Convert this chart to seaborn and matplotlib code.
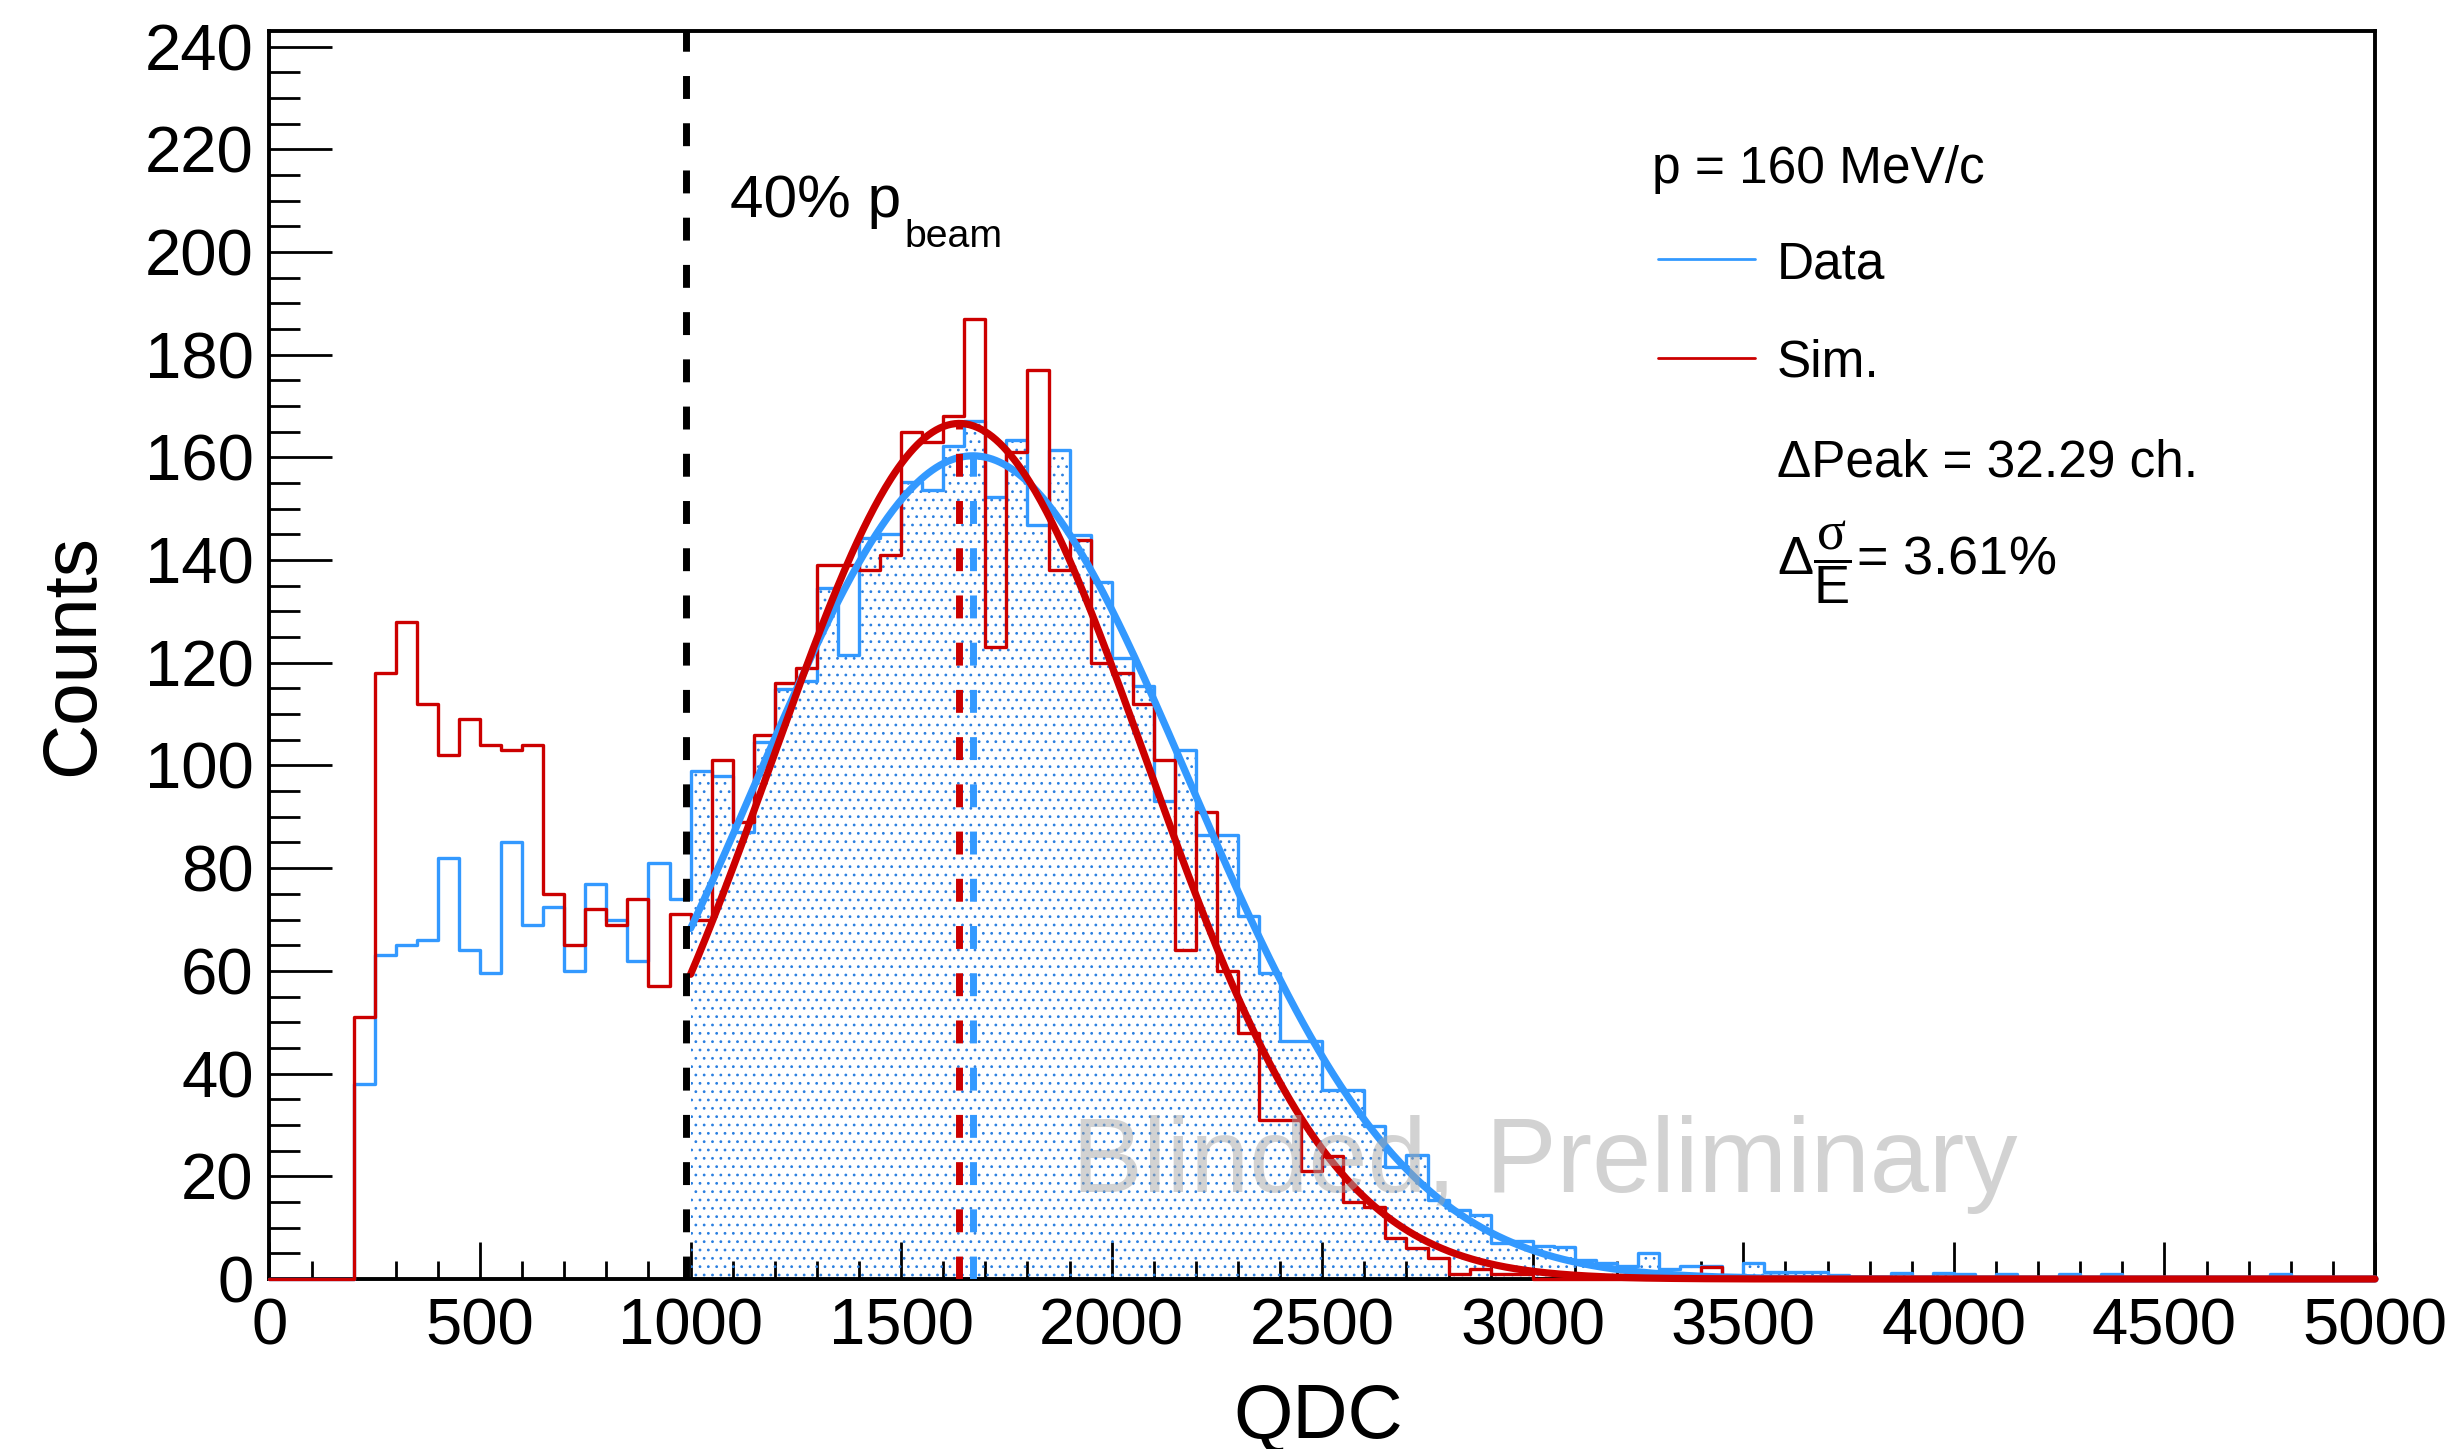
import numpy as np
import matplotlib
matplotlib.use("Agg")
import matplotlib.pyplot as plt
import seaborn as sns

# ---- histogram binning (QDC channels) ----
bin_width = 50
qdc_min, qdc_max = 0, 5000
bin_edges = np.arange(qdc_min, qdc_max + bin_width, bin_width)
bin_centers = bin_edges[:-1] + bin_width / 2

# ---- measured spectrum (counts per bin) ----
data_counts = np.array([
    0, 0, 0, 0, 38, 63, 65, 66, 82, 64,
    59.5, 85, 69, 72.5, 60, 77, 70, 62, 81, 74,
    99, 98, 87, 104.6, 114.8, 116.5, 134.6, 121.6, 144.3, 145,
    155.2, 153.7, 162.2, 167, 152.3, 163.4, 146.8, 161.5, 144.8, 135.7,
    121, 115.5, 93, 103, 86.5, 86.5, 70.6, 59.5, 46.4, 46.4,
    36.8, 36.8, 29.7, 21.9, 24.2, 15.4, 13.4, 12.5, 7, 7.4,
    6.5, 6.3, 3.7, 3.2, 2.6, 5, 2, 2.6, 2.6, 0.8,
    3.2, 1.4, 1.4, 1.4, 0.8, 0, 0, 1.2, 0, 1.2,
    1, 0, 1, 0, 0, 1, 0, 1, 0, 0,
    0, 0, 0, 0, 0, 1, 0, 0, 0, 0,
])

# ---- simulated spectrum (counts per bin) ----
sim_counts = np.array([
    0, 0, 0, 0, 51, 118, 128, 112, 102, 109,
    104, 103, 104, 75, 65, 72, 69, 74, 57, 71,
    70, 101, 89, 106, 116, 119, 139, 139, 138, 141,
    165, 163, 168, 187, 123, 161, 177, 138, 144, 120,
    118, 112, 101, 64, 91, 60, 48, 31, 31, 21,
    24, 15, 14, 8, 6, 4, 1, 2, 1, 1,
    0, 0, 0, 0, 0, 0, 0, 0, 2.3, 0,
    0, 0, 0, 0, 0, 0, 0, 0, 0, 0,
    0, 0, 0, 0, 0, 0, 0, 0, 0, 0,
    0, 0, 0, 0, 0, 0, 0, 0, 0, 0,
])

# ---- Gaussian fit results (fit range starts at fit_low) ----
fit_low, fit_high = 1000, 5000
data_amp, data_mean, data_sigma = 160.3, 1670.29, 513.0
sim_amp, sim_mean, sim_sigma = 166.6, 1638.0, 444.0
cut_qdc = 990  # 40% of beam momentum

BLUE = "#3399ff"
RED = "#cc0000"
DOT = "#2a7fe0"
FONT = ["Liberation Sans", "DejaVu Sans"]

sns.set_style("white")
plt.rcParams.update({
    "font.family": FONT,
    "text.color": "black",
    "axes.labelcolor": "black",
    "xtick.color": "black",
    "ytick.color": "black",
    "mathtext.fontset": "custom",
    "mathtext.rm": "Liberation Sans",
    "mathtext.it": "Liberation Serif",
    "mathtext.bf": "Liberation Sans:bold",
    "hatch.linewidth": 0.8,
    "hatch.color": DOT,
    "axes.linewidth": 2.8,
    "axes.edgecolor": "black",
})

fig = plt.figure(figsize=(24.58, 14.49), dpi=100)
ax = fig.add_axes([0.10964, 0.11732, 0.85659, 0.86156])


def gauss(x, amp, mean, sigma):
    return amp * np.exp(-0.5 * ((x - mean) / sigma) ** 2)


# data histogram outline
sns.histplot(x=bin_centers, weights=data_counts, binwidth=bin_width,
             binrange=(qdc_min, qdc_max), element="step", fill=False,
             color=BLUE, linewidth=2.4, ax=ax)

# dotted fill of the data inside the fit range
in_fit = bin_centers >= fit_low
sns.histplot(x=bin_centers[in_fit], weights=data_counts[in_fit],
             binwidth=bin_width, binrange=(fit_low, qdc_max),
             element="step", fill=True, color=DOT, facecolor="none",
             edgecolor=DOT, linewidth=0, hatch="..", ax=ax)

# simulation histogram outline
sns.histplot(x=bin_centers, weights=sim_counts, binwidth=bin_width,
             binrange=(qdc_min, qdc_max), element="step", fill=False,
             color=RED, linewidth=2.4, ax=ax)

# Gaussian fits
x_fit = np.linspace(fit_low, fit_high, 900)
sns.lineplot(x=x_fit, y=gauss(x_fit, data_amp, data_mean, data_sigma),
             estimator=None, color=BLUE, linewidth=5.2, ax=ax)
sns.lineplot(x=x_fit, y=gauss(x_fit, sim_amp, sim_mean, sim_sigma),
             estimator=None, color=RED, linewidth=5.2, ax=ax)

for i, ln in enumerate(ax.lines):
    ln.set_clip_on(False)
    ln.set_zorder(3 + i)

# peak positions and momentum cut
ax.vlines(sim_mean, 0, sim_amp, colors=RED, linewidth=5,
          linestyles=(0, (3.3, 3.5)), zorder=10)
ax.vlines(data_mean, 0, data_amp, colors=BLUE, linewidth=5,
          linestyles=(0, (3.3, 3.5)), zorder=10)
ax.axvline(cut_qdc, color="black", linewidth=5,
           linestyle=(0, (3.3, 3.5)), zorder=10)

# axes
ax.set_xlim(qdc_min, qdc_max)
ax.set_ylim(0, 243.1)
ax.set_xticks(np.arange(0, 5001, 500))
ax.set_xticks(np.arange(0, 5001, 100), minor=True)
ax.set_yticks(np.arange(0, 241, 20))
ax.set_yticks(np.arange(0, 241, 5), minor=True)
ax.tick_params(axis="both", which="both", direction="in", width=2.0,
               bottom=True, left=True, top=False, right=False,
               labelsize=47, colors="black")
ax.tick_params(axis="x", which="major", length=26.6, pad=13)
ax.tick_params(axis="x", which="minor", length=13)
ax.tick_params(axis="y", which="major", length=45, pad=11.5)
ax.tick_params(axis="y", which="minor", length=22.5)
for sp in ax.spines.values():
    sp.set_linewidth(2.8)
    sp.set_zorder(2.5)

ax.set_xlabel("QDC", fontsize=55)
ax.set_ylabel("Counts", fontsize=55)
ax.xaxis.label.set_va("center")
ax.yaxis.label.set_va("center")
ax.xaxis.set_label_coords(0.498, -0.111)
ax.yaxis.set_label_coords(-0.093, 0.5)

# annotations
ax.text(0.2187, 0.8509, "40% p", fontsize=43.5, ha="left", va="baseline",
        transform=ax.transAxes)
ax.text(0.3018, 0.8269, "beam", fontsize=28.3, ha="left", va="baseline",
        transform=ax.transAxes)

leg_fs = 37
ax.text(0.6566, 0.8783, "p = 160 MeV/c", fontsize=leg_fs, ha="left",
        va="baseline", transform=ax.transAxes)
ax.plot([0.6595, 0.7055], [0.8171, 0.8171], color=BLUE, linewidth=2.0,
        transform=ax.transAxes, clip_on=False)
ax.text(0.7158, 0.8014, "Data", fontsize=leg_fs, ha="left", va="baseline",
        transform=ax.transAxes)
ax.plot([0.6595, 0.7055], [0.7381, 0.7381], color=RED, linewidth=2.0,
        transform=ax.transAxes, clip_on=False)
ax.text(0.7158, 0.7233, "Sim.", fontsize=leg_fs, ha="left", va="baseline",
        transform=ax.transAxes)
ax.text(0.7158, 0.6429, "\u0394Peak = 32.29 ch.", fontsize=leg_fs, ha="left",
        va="baseline", transform=ax.transAxes)
ax.text(0.7158, 0.5647, r"$\Delta\dfrac{\sigma}{\mathrm{E}}$= 3.61%",
        fontsize=leg_fs + 2, ha="left", va="baseline", transform=ax.transAxes)

# watermark
ax.text(0.6056, 0.0699, "Blinded, Preliminary", fontsize=76.5,
        color="#a6a6a6", alpha=0.5, ha="center", va="baseline",
        transform=ax.transAxes, zorder=20)

fig.savefig("out.png", dpi=100)
